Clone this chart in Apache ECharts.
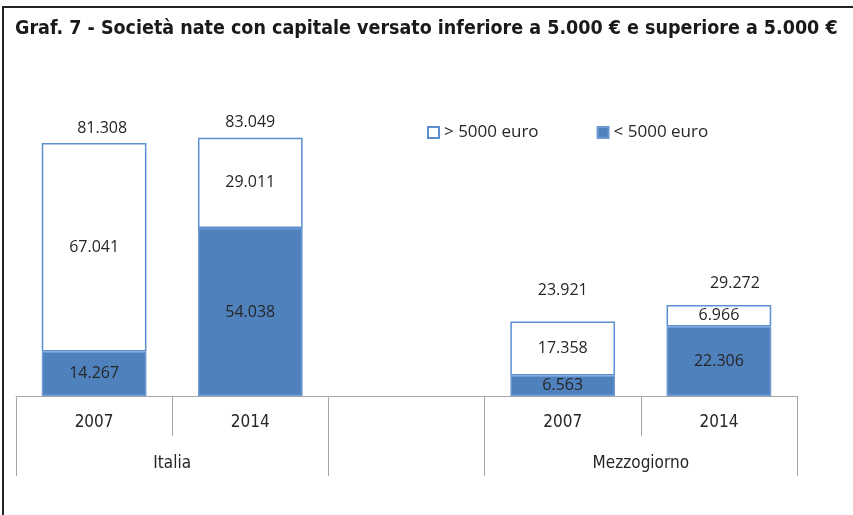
<!DOCTYPE html>
<html style="height: 100%">
<head>
<meta charset="utf-8">
<script src="https://cdn.jsdelivr.net/npm/echarts@6/dist/echarts.min.js"></script>
</head>
<body style="height: 100%; margin: 0; background: #fff">
<div id="container" style="width: 853px; height: 515px"></div>
<script type="text/javascript">
var years = ['2007', '2014', '', '2007', '2014'];
var groups = ['Italia', 'Mezzogiorno'];
var name1 = '> 5000 euro';
var name2 = '< 5000 euro';
var sopra = [67041, 29011, '-', 17358, 6966];   // > 5000 euro
var sotto = [14267, 54038, '-', 6563, 22306];   // < 5000 euro
var totali = [81308, 83049, '-', 23921, 29272];

var narrow = '"Liberation Sans Narrow", "DejaVu Sans Condensed", sans-serif';
var testo = '"Open Sans", sans-serif';

function fmt(v) {
    return String(v).replace(/\B(?=(\d{3})+(?!\d))/g, '.');
}

var dom = document.getElementById('container');
var myChart = echarts.init(dom);

// the total labels were moved by hand in the original
var shiftTot = [[8, -2], [0, -2], [0, 0], [0, -18], [16, -8]];
var totData = totali.map(function (v, i) {
    return {value: v, label: {offset: shiftTot[i]}};
});

var option = {
    animation: false,
    title: {
        text: 'Graf. 7 - Società nate con capitale versato inferiore a 5.000 € e superiore a 5.000 €',
        left: 10,
        top: 14,
        textStyle: {fontFamily: narrow, fontWeight: 'bold', fontSize: 19.5, color: '#1a1a1a'}
    },
    graphic: [{
        type: 'rect',
        shape: {x: 3, y: 7, width: 900, height: 600},
        style: {fill: 'none', stroke: '#222', lineWidth: 2},
        silent: true
    }],
    legend: {
        data: [name1, name2],
        left: 422,
        top: 119,
        itemWidth: 11,
        itemHeight: 11,
        itemGap: 58,
        icon: 'rect',
        textStyle: {fontFamily: testo, fontSize: 17, color: '#262626'}
    },
    grid: {left: 16, right: 56, top: 116, bottom: 119},
    xAxis: [{
        type: 'category',
        data: years,
        axisLine: {show: true, lineStyle: {color: '#a6a6a6'}},
        axisTick: {show: true, interval: 0, length: 40, lineStyle: {color: '#a6a6a6'}},
        axisLabel: {interval: 0, margin: 18, fontFamily: narrow, fontSize: 17, color: '#262626'}
    }, {
        type: 'value',
        min: 0,
        max: 5,
        position: 'bottom',
        axisLine: {show: false},
        splitLine: {show: false},
        axisTick: {show: true, length: 80, customValues: [0, 2, 3, 5], lineStyle: {color: '#a6a6a6'}},
        axisLabel: {
            customValues: [1, 4],
            margin: 59,
            fontFamily: narrow,
            fontSize: 17,
            color: '#262626',
            formatter: function (v) { return v < 2 ? groups[0] : groups[1]; }
        }
    }],
    yAxis: {type: 'value', min: 0, max: 90000, show: false, splitLine: {show: false}},
    series: [{
        name: name2,
        type: 'bar',
        stack: 'tot',
        barCategoryGap: '33%',
        data: sotto,
        itemStyle: {color: '#4f81bd', borderColor: '#6f9ad3', borderWidth: 1.5},
        label: {show: true, position: 'inside', formatter: function (p) { return fmt(p.value); },
            fontFamily: testo, fontSize: 16, color: '#262626'}
    }, {
        name: name1,
        type: 'bar',
        stack: 'tot',
        data: sopra,
        itemStyle: {color: '#ffffff', borderColor: '#5b8fd0', borderWidth: 1.5},
        label: {show: true, position: 'inside', formatter: function (p) { return fmt(p.value); },
            fontFamily: testo, fontSize: 16, color: '#262626'}
    }, {
        name: 'totale',
        type: 'bar',
        barGap: '-100%',
        z: 1,
        data: totData,
        itemStyle: {color: 'rgba(0,0,0,0)'},
        label: {show: true, position: 'top', distance: 5, formatter: function (p) { return fmt(p.value); },
            fontFamily: testo, fontSize: 16, color: '#262626'}
    }]
};

myChart.setOption(option);
</script>
</body>
</html>
